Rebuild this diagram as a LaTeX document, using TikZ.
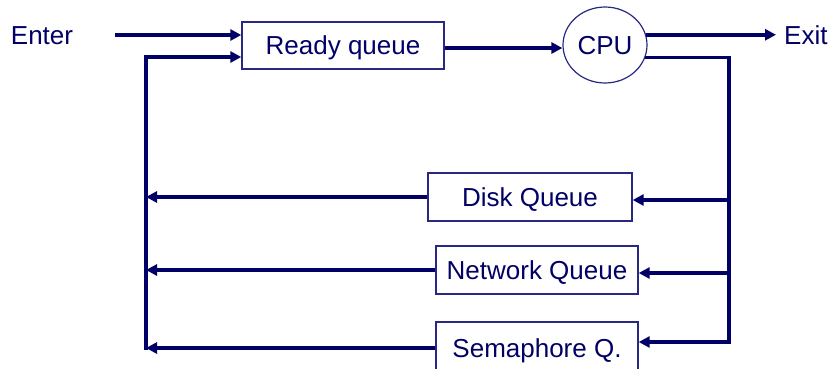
\documentclass[tikz,border=0pt]{standalone}
\usepackage{fontspec}
\setmainfont{Liberation Sans}
\usetikzlibrary{arrows.meta,shapes.geometric}
\definecolor{navy}{RGB}{0,0,102}
\definecolor{boxline}{RGB}{40,40,130}
\begin{document}
\begin{tikzpicture}[x=1pt,y=-1pt,
  every node/.style={font=\fontsize{26}{30}\selectfont, text=navy, text height=18.6pt, text depth=0pt},
  qbox/.style={draw=boxline, line width=1.4pt, inner sep=0pt, minimum height=47pt},
  flow/.style={draw=navy, line width=3.6pt, -{Triangle[length=11pt,width=11pt]}},
  plain/.style={draw=navy, line width=3.6pt}]
\useasboundingbox (0,0) rectangle (828,368);
\node (enter) at (42,35) {Enter};
\node[anchor=west, inner sep=0pt] (exit) at (784,35) {Exit};
\node[qbox, minimum width=202pt] (ready) at (343,45.5) {Ready queue};
\node[ellipse, draw=boxline, line width=1.2pt, minimum width=84pt, minimum height=76pt, inner sep=0pt] (cpu) at (605,45) {CPU};
\node[qbox, minimum width=204pt, minimum height=48pt] (disk) at (530,197) {Disk Queue};
\node[qbox, minimum width=202pt, minimum height=48pt] (net) at (537,270) {Network Queue};
\node[qbox, minimum width=202pt, minimum height=52pt] (sem) at (537,348) {Semaphore Q.};
\coordinate (estart) at (115,35);
\coordinate (lx) at (146,57);
\coordinate (rx) at (729,57);
\coordinate (exend) at (776,35);
\coordinate (rin) at ([yshift=-2.5pt]ready.east);
\coordinate (din) at ([yshift=-3pt]disk.east);
\coordinate (nin) at ([yshift=-3pt]net.east);
\coordinate (sin) at ([yshift=6pt]sem.east);
% enter
\draw[flow] (estart) -- (estart -| ready.west);
% ready -> cpu
\draw[flow] (rin) -- (rin -| cpu.west);
% cpu -> exit
\draw[flow] (cpu.14) -- (cpu.14 -| exend);
% cpu -> feedback
\draw[plain] (cpu.-17) -- (cpu.-17 -| rx) -- ([yshift=-1.8pt]rx |- sin);
\draw[flow] (rx |- din) -- (din);
\draw[flow] (rx |- nin) -- (nin);
\draw[flow] (rx |- sin) -- (sin);
% queues back to left
\draw[flow] (disk.west) -- (disk.west -| lx);
\draw[flow] (net.west) -- (net.west -| lx);
\draw[flow] (sem.west) -- (sem.west -| lx);
\draw[plain] ([yshift=-1.8pt]lx |- sem.west) -- (lx);
\draw[flow] ([xshift=-1.8pt]lx) -- (lx -| ready.west);
\end{tikzpicture}
\end{document}
